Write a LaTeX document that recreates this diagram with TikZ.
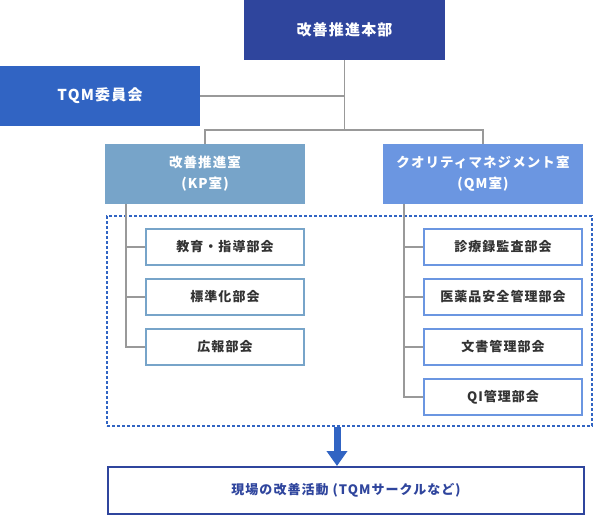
\documentclass[tikz,border=0pt]{standalone}
\usepackage{fontspec}
\setmainfont[LetterSpace=8]{Noto Sans CJK JP}
\usepackage{tikz}
\usetikzlibrary{arrows.meta,positioning}
\definecolor{navyblue}{RGB}{47,69,157}
\definecolor{royalblue}{RGB}{49,100,195}
\definecolor{kpblue}{RGB}{119,164,201}
\definecolor{qmblue}{RGB}{107,150,225}
\definecolor{linegray}{RGB}{153,153,153}
\definecolor{textgray}{RGB}{51,51,51}

\begin{document}
\begin{tikzpicture}[x=1pt, y=-1pt,
    head/.style={rectangle, inner sep=0pt, outer sep=0pt, minimum width=201pt, minimum height=60pt, align=center, text=white, font=\bfseries\fontsize{15}{18}\selectfont},
    office/.style={rectangle, inner sep=0pt, outer sep=0pt, minimum width=200pt, minimum height=60pt, align=center, text=white, font=\bfseries\fontsize{13.5}{21}\selectfont},
    unit/.style={rectangle, draw, line width=2pt, inner sep=0pt, minimum width=158pt, minimum height=36pt, text=textgray, font=\bfseries\fontsize{13}{16}\selectfont},
    group/.style={rectangle, draw=royalblue, line width=2pt, dash pattern=on 3pt off 2pt, minimum width=485pt, minimum height=210pt},
    link/.style={draw=linegray, line width=1.5pt},
    arrow/.style={-{Triangle[length=15pt,width=20pt]}, line width=7pt, royalblue}
]
\useasboundingbox (0,0) rectangle (594,516);

\node[group] (grp) at (349.5,321) {};

\node[head, fill=navyblue] (hq) at (344.5,30) {改善推進本部};
\node[head, fill=royalblue, minimum width=200pt] (tqm) at (100,96) {TQM委員会};

\node[office, fill=kpblue] (kp) at (205,174) {改善推進室\\(KP室)};
\node[office, fill=qmblue] (qm) at (483,174) {クオリティマネジメント室\\(QM室)};

\node[unit, draw=kpblue] (edu) at (225,247) {教育・指導部会};
\node[unit, draw=kpblue] (std) at (225,297) {標準化部会};
\node[unit, draw=kpblue] (pr) at (225,347) {広報部会};

\node[unit, draw=qmblue] (audit) at (503,247) {診療録監査部会};
\node[unit, draw=qmblue] (drug) at (503,297) {医薬品安全管理部会};
\node[unit, draw=qmblue] (doc) at (503,347) {文書管理部会};
\node[unit, draw=qmblue] (qi) at (503,397) {QI管理部会};

\node[unit, draw=navyblue, text=navyblue, minimum width=476pt, minimum height=47pt] (field) at (346,490.5) {現場の改善活動 (TQMサークルなど)};

% tree lines
\coordinate (bus) at (344.5,130);
\coordinate (kptrunk) at ([xshift=21pt]kp.south west);
\coordinate (qmtrunk) at ([xshift=21pt]qm.south west);
\draw[link] (hq.south) -- (bus);
\draw[link] (tqm.east) -- (tqm.east -| hq.south);
\draw[link] (kp.north) |- (bus) -| (qm.north);

\draw[link] (kptrunk) |- (edu.west);
\draw[link] (kptrunk) |- (std.west);
\draw[link] (kptrunk) |- (pr.west);

\draw[link] (qmtrunk) |- (audit.west);
\draw[link] (qmtrunk) |- (drug.west);
\draw[link] (qmtrunk) |- (doc.west);
\draw[link] (qmtrunk) |- (qi.west);

% down to the field
\coordinate (drop) at ([xshift=-12.5pt]grp.south);
\draw[arrow] (drop) -- (drop |- field.north);
\end{tikzpicture}
\end{document}
